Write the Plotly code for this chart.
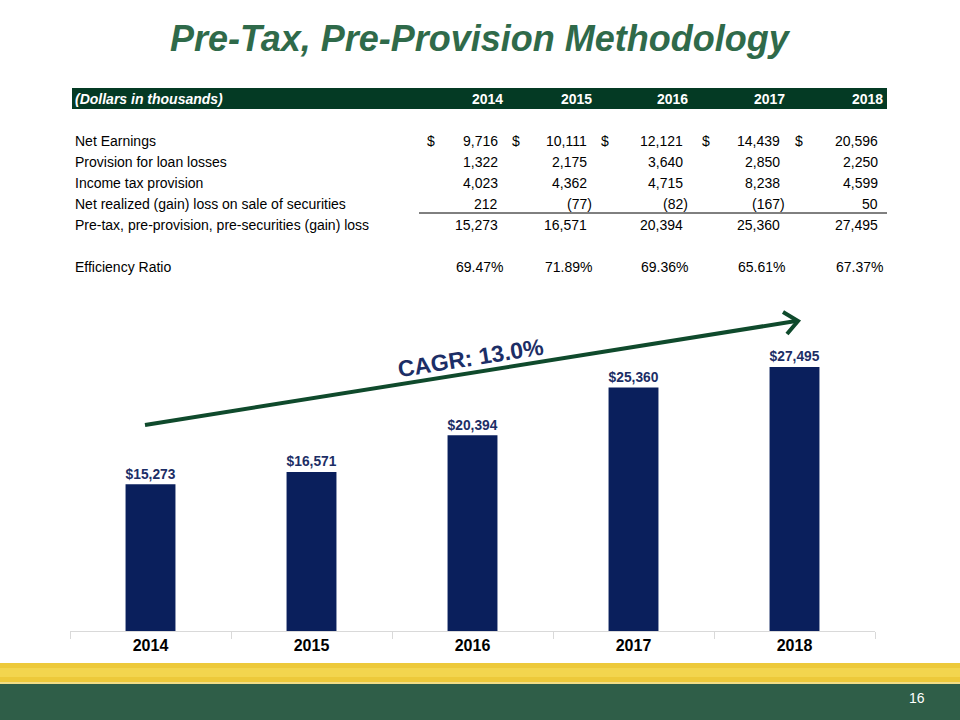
import plotly.graph_objects as go

# ---------------- data ----------------
years = ["2014", "2015", "2016", "2017", "2018"]
net_earnings = [9716, 10111, 12121, 14439, 20596]
provision = [1322, 2175, 3640, 2850, 2250]
income_tax = [4023, 4362, 4715, 8238, 4599]
securities = [212, -77, -82, -167, 50]
pre_tax = [15273, 16571, 20394, 25360, 27495]
efficiency = [69.47, 71.89, 69.36, 65.61, 67.37]
row_labels = ["Net Earnings", "Provision for loan losses", "Income tax provision",
              "Net realized (gain) loss on sale of securities",
              "Pre-tax, pre-provision, pre-securities (gain) loss"]
header_label = "(Dollars in thousands)"
eff_label = "Efficiency Ratio"
title_text = "Pre-Tax, Pre-Provision Methodology"
cagr_text = "CAGR: 13.0%"
page_no = "16"

# ---------------- style ----------------
W, H = 960, 720
FONT = "Liberation Sans, Arial, sans-serif"
NAVY = "#0A1F5C"
LABEL_NAVY = "#1C2E66"
TITLE_GREEN = "#2F6A4A"
HEADER_GREEN = "#043A24"
ARROW_GREEN = "#0F4A2C"
BAND_GREEN = "#2F5E48"

def px(x):
    return x / W

def py(y):
    return 1 - y / H

fig = go.Figure()
fig.add_trace(go.Bar(
    x=years, y=pre_tax, marker_color=NAVY, marker_line_width=0,
    texttemplate="<b>$%{y:,}</b>", textposition="outside",
    textfont=dict(family=FONT, size=16, color=LABEL_NAVY),
    cliponaxis=False, hoverinfo="skip",
))

annotations = []
shapes = []

def ann(x, y, text, size=14, color="black", xanchor="left", bold=False, italic=False, angle=0):
    t = text
    if bold:
        t = "<b>" + t + "</b>"
    if italic:
        t = "<i>" + t + "</i>"
    annotations.append(dict(
        x=px(x), y=py(y), xref="paper", yref="paper", text=t, showarrow=False,
        xanchor=xanchor, yanchor="middle", textangle=angle,
        font=dict(family=FONT, size=size, color=color), borderpad=0, borderwidth=0,
    ))

# title
ann(480, 38, title_text, size=36, color=TITLE_GREEN, xanchor="center", bold=True, italic=True)

# table header
shapes.append(dict(type="rect", xref="paper", yref="paper", x0=px(72), x1=px(887),
                   y0=py(109), y1=py(88), fillcolor=HEADER_GREEN, line_width=0, layer="below"))
ann(75, 99, header_label, size=14, color="white", bold=True, italic=True)
col_right = [503, 592, 688, 785, 883]
dollar_x = [431, 516, 605, 706, 799]
for i, yr in enumerate(years):
    ann(col_right[i], 99, yr, size=14, color="white", xanchor="right", bold=True)

def fmt(v):
    if v < 0:
        return "({:,})".format(-v)
    return "{:,}".format(v)

rows = [net_earnings, provision, income_tax, securities, pre_tax]
row_y = [141, 162, 183, 204, 225]
for r, (lab, vals, yy) in enumerate(zip(row_labels, rows, row_y)):
    ann(75, yy, lab, size=14)
    for i, v in enumerate(vals):
        xr = col_right[i] if v < 0 else col_right[i] - 5
        ann(xr, yy, fmt(v), size=14, xanchor="right")
        if r == 0:
            ann(dollar_x[i], yy, "$", size=14, xanchor="center")

shapes.append(dict(type="line", xref="paper", yref="paper", x0=px(419), x1=px(887),
                   y0=py(213), y1=py(213), line=dict(color="black", width=1)))
ann(75, 267, eff_label, size=14)
for i, v in enumerate(efficiency):
    ann(col_right[i], 267, "{:.2f}%".format(v), size=14, xanchor="right")

# CAGR arrow
shapes.append(dict(type="line", xref="paper", yref="paper", x0=px(145), y0=py(425),
                   x1=px(796), y1=py(321), line=dict(color=ARROW_GREEN, width=4)))
shapes.append(dict(type="path", xref="paper", yref="paper",
                   path="M {},{} L {},{} L {},{}".format(px(783), py(312), px(798), py(321), px(787), py(334)),
                   line=dict(color=ARROW_GREEN, width=4)))
ann(470, 358, cagr_text, size=23, color=LABEL_NAVY, xanchor="center", bold=True, angle=-9)

# bottom bands
shapes.append(dict(type="rect", xref="paper", yref="paper", x0=0, x1=1, y0=py(684), y1=py(663),
                   fillcolor="#EDC93A", line_width=0, layer="below"))
shapes.append(dict(type="rect", xref="paper", yref="paper", x0=0, x1=1, y0=py(677), y1=py(668),
                   fillcolor="#F3D54E", line_width=0, layer="below"))
shapes.append(dict(type="rect", xref="paper", yref="paper", x0=0, x1=1, y0=py(684), y1=py(682),
                   fillcolor="#F1DD86", line_width=0, layer="below"))
shapes.append(dict(type="rect", xref="paper", yref="paper", x0=0, x1=1, y0=0, y1=py(684),
                   fillcolor=BAND_GREEN, line_width=0, layer="below"))
ann(917, 698, page_no, size=14, color="white", xanchor="center")

fig.update_layout(
    width=W, height=H, margin=dict(l=0, r=0, t=0, b=0),
    paper_bgcolor="white", plot_bgcolor="white",
    showlegend=False, bargap=0.69,
    xaxis=dict(domain=[px(70), px(875)], type="category", showgrid=False,
               showline=True, linecolor="#D9D9D9", linewidth=1,
               ticks="outside", tickson="boundaries", ticklen=7, tickcolor="#D9D9D9",
               tickfont=dict(family=FONT, size=16, color="black"),
               tickprefix="<b>", ticksuffix="</b>", fixedrange=True),
    yaxis=dict(domain=[py(631), py(330)], range=[0, 31350], visible=False, fixedrange=True),
    annotations=annotations, shapes=shapes,
)

fig.write_html("out.html")
